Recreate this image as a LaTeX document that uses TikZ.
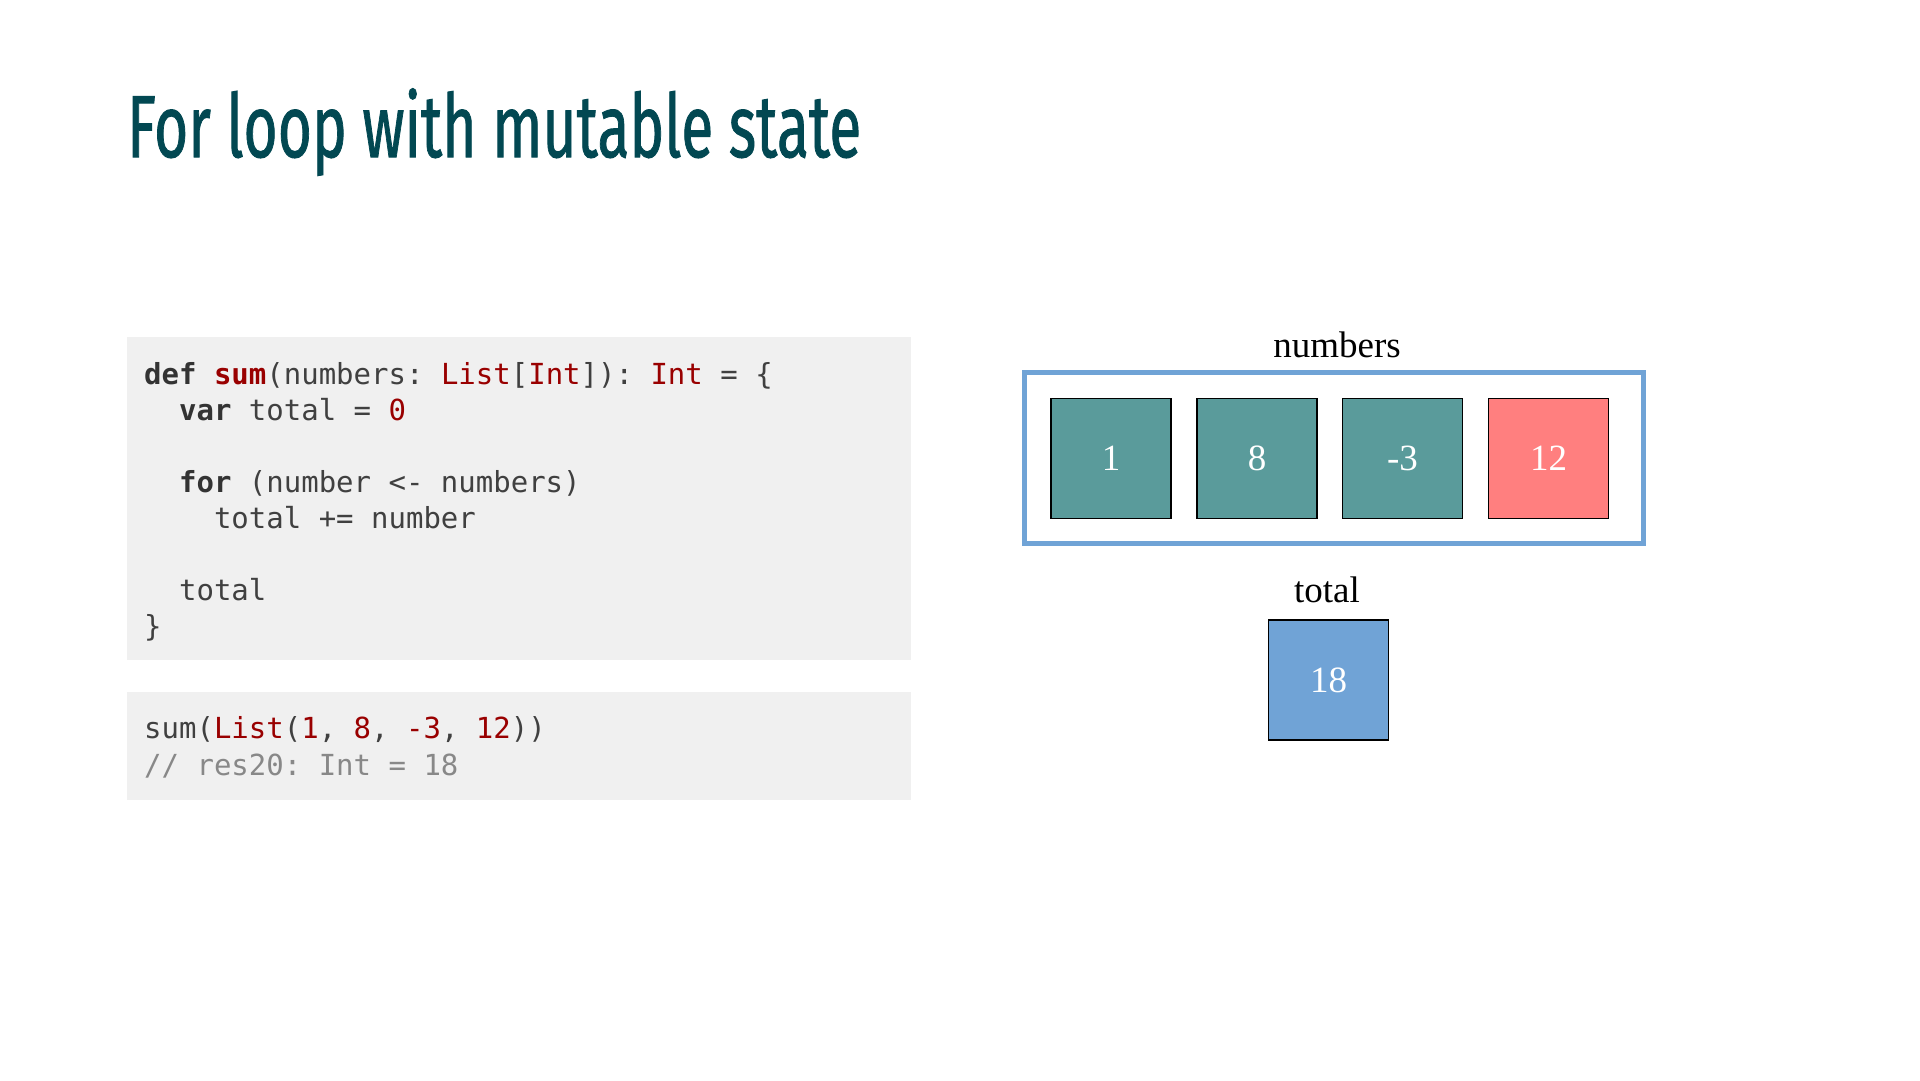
\documentclass[tikz,border=0pt]{standalone}
\usepackage{fontspec}
\usepackage{graphicx}
\setmainfont{Liberation Serif}
\newfontfamily\titlefont[FakeBold=1.2]{Fira Sans}
\newfontfamily\codefont{DejaVu Sans Mono}

\definecolor{titlecol}{RGB}{2,72,82}
\definecolor{codebg}{RGB}{240,240,240}
\definecolor{codefg}{RGB}{64,64,64}
\definecolor{codekw}{RGB}{51,51,51}
\definecolor{codered}{RGB}{153,0,0}
\definecolor{codecomment}{RGB}{136,136,136}
\definecolor{cellteal}{RGB}{90,155,155}
\definecolor{cellred}{RGB}{255,127,127}
\definecolor{cellblue}{RGB}{112,163,214}

\newcommand{\kw}[1]{\textcolor{codekw}{\bfseries #1}}
\newcommand{\fnname}[1]{\textcolor{codered}{\bfseries #1}}
\newcommand{\ty}[1]{\textcolor{codered}{#1}}
\newlength\cw
\newsavebox\titlebox

\begin{document}
\frenchspacing
\settowidth\cw{\codefont\fontsize{29}{36}\selectfont 0}
\sbox\titlebox{\color{titlecol}\titlefont\fontsize{88}{96}\selectfont For loop with mutable state}
\begin{tikzpicture}[x=1pt,y=-1pt,
  codeline/.style={anchor=base west, inner sep=0pt, text=codefg,
    font=\codefont\fontsize{29}{36}\selectfont},
  comment/.style={codeline, text=codecomment},
  cell/.style={draw=black, line width=1.5pt, minimum width=120pt,
    minimum height=120pt, inner sep=0pt, text=white,
    font=\fontsize{37}{40}\selectfont},
  label/.style={anchor=base, inner sep=0pt, font=\fontsize{37}{40}\selectfont},
  frame/.style={draw=cellblue, line width=5pt, minimum width=619pt,
    minimum height=171pt, inner sep=0pt}]
\useasboundingbox (0,0) rectangle (1920,1080);

% slide title
\node[anchor=base west, inner sep=0pt, text=titlecol] (title) at (127,157)
  {\resizebox{734pt}{\ht\titlebox}{\usebox\titlebox}};

% code block: definition
\fill[codebg] (127,337) rectangle (911,660);
\node[codeline] (c1) at (144,384)
  {\kw{def} \fnname{sum}(numbers: \ty{List}[\ty{Int}]): \ty{Int} = \{};
\node[codeline] (c2) at (144,420)
  {\hspace*{2\cw}\kw{var} total = \ty{0}};
\node[codeline] (c4) at (144,492)
  {\hspace*{2\cw}\kw{for} (number <- numbers)};
\node[codeline] (c5) at (144,528)
  {\hspace*{4\cw}total += number};
\node[codeline] (c7) at (144,600)
  {\hspace*{2\cw}total};
\node[codeline] (c8) at (144,636) {\}};

% code block: call and result
\fill[codebg] (127,692) rectangle (911,800);
\node[codeline] (r1) at (144,738)
  {sum(\ty{List}(\ty{1}, \ty{8}, \ty{-3}, \ty{12}))};
\node[comment] (r2) at (144,775) {// res20: Int = 18};

% the list and its cells
\node[label] (numlabel) at (1337,357) {numbers};
\node[frame] (numbers) at (1333.5,458) {};
\node[cell, fill=cellteal] (n1) at (1111,458.5) {1};
\node[cell, fill=cellteal] (n2) at (1257,458.5) {8};
\node[cell, fill=cellteal] (n3) at (1402.5,458.5) {-3};
\node[cell, fill=cellred]  (n4) at (1548.5,458.5) {12};

% the accumulator
\node[label] (totlabel) at (1327,602) {total};
\node[cell, fill=cellblue] (total) at (1328.5,680) {18};
\end{tikzpicture}
\end{document}
